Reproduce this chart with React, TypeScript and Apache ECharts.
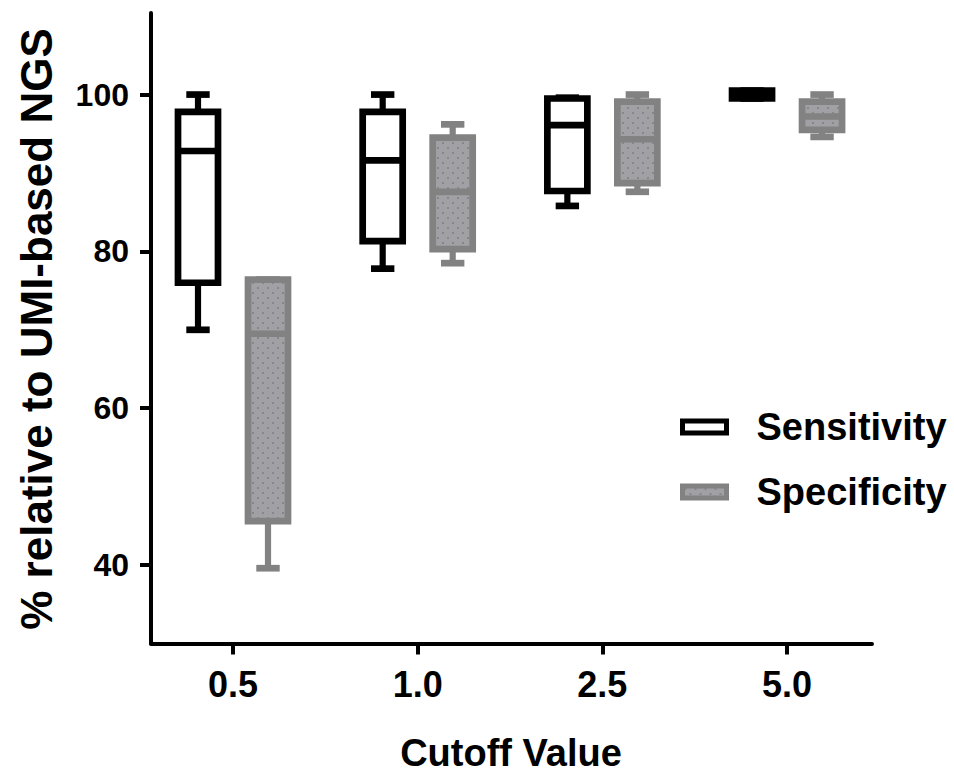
import React, { useEffect, useRef } from "react";
import * as echarts from "echarts";

const categories = ["0.5", "1.0", "2.5", "5.0"];
const categoryPositions = [0, 1, 2, 3];
// [min, Q1, median, Q3, max]
const sensitivity = [
  [70, 76, 92.8, 97.8, 100],
  [77.8, 81.3, 91.6, 97.8, 100],
  [85.8, 87.7, 96.1, 99.5, 99.6],
  [99.5, 99.5, 100, 100.5, 100.5],
];
const specificity = [
  [39.6, 45.6, 69.5, 76.4, 76.4],
  [78.5, 80.3, 87.6, 94.5, 96.2],
  [87.6, 88.7, 94.3, 99.1, 100],
  [94.6, 95.5, 97.2, 99.1, 100],
];
const yTicks = [40, 60, 80, 100];
const seriesNames = ["Sensitivity", "Specificity"];

const FONT = "'Liberation Sans', Arial, sans-serif";

function makePattern() {
  const c = document.createElement("canvas");
  c.width = 10;
  c.height = 10;
  const ctx = c.getContext("2d")!;
  ctx.fillStyle = "#a1a1a5";
  ctx.fillRect(0, 0, 10, 10);
  ctx.fillStyle = "#87878b";
  ctx.fillRect(2, 2, 2, 2);
  ctx.fillRect(7, 7, 2, 2);
  return { image: c, repeat: "repeat" as const };
}

export default function App() {
  const ref = useRef<HTMLDivElement>(null);
  useEffect(() => {
    if (!ref.current) return;
    const chart = echarts.init(ref.current, null, { renderer: "svg" });
    const pattern = makePattern();

    const makeRender = (offset: number, stroke: string, fill: any) =>
      (params: any, api: any) => {
        const xi = api.value(0);
        const mn = api.value(1), q1 = api.value(2), md = api.value(3), q3 = api.value(4), mx = api.value(5);
        const cx = api.coord([xi, 0])[0] + offset;
        const y = (v: number) => api.coord([xi, v])[1];
        const lw = 6.7;
        const hw = 20;
        const cw = 11.7;
        const lineStyle = { stroke, lineWidth: lw, lineCap: "butt" };
        return {
          type: "group",
          children: [
            { type: "line", shape: { x1: cx, y1: y(q3), x2: cx, y2: y(mx) }, style: { ...lineStyle, lineWidth: 6.2 } },
            { type: "line", shape: { x1: cx, y1: y(q1), x2: cx, y2: y(mn) }, style: { ...lineStyle, lineWidth: 6.2 } },
            { type: "line", shape: { x1: cx - cw, y1: y(mx), x2: cx + cw, y2: y(mx) }, style: lineStyle },
            { type: "line", shape: { x1: cx - cw, y1: y(mn), x2: cx + cw, y2: y(mn) }, style: lineStyle },
            {
              type: "rect",
              shape: { x: cx - hw, y: y(q3), width: hw * 2, height: y(q1) - y(q3) },
              style: { fill, stroke, lineWidth: lw },
            },
            { type: "line", shape: { x1: cx - hw, y1: y(md), x2: cx + hw, y2: y(md) }, style: lineStyle },
          ],
        };
      };

    const toData = (arr: number[][]) => arr.map((v, i) => [categoryPositions[i], ...v]);

    chart.setOption({
      animation: false,
      grid: { left: 151, right: 82, top: 13, bottom: 132.5, containLabel: false },
      xAxis: {
        type: "value",
        min: -0.444,
        max: 3.46,
        splitLine: { show: false },
        axisLine: { show: true, onZero: false, lineStyle: { color: "#000", width: 4 } },
        axisTick: { show: true, customValues: categoryPositions, length: 11, lineStyle: { color: "#000", width: 4 } },
        axisLabel: {
          customValues: categoryPositions,
          formatter: (v: number) => categories[Math.round(v)] ?? "",
          margin: 23,
          color: "#000",
          fontFamily: FONT,
          fontWeight: "bold",
          fontSize: 36,
        },
      },
      yAxis: {
        type: "value",
        min: 30,
        max: 110.4,
        splitLine: { show: false },
        axisLine: { show: true, onZero: false, lineStyle: { color: "#000", width: 4 } },
        axisTick: { show: true, customValues: yTicks, length: 11, lineStyle: { color: "#000", width: 4 } },
        axisLabel: {
          customValues: yTicks,
          margin: 22,
          color: "#000",
          fontFamily: FONT,
          fontWeight: "bold",
          fontSize: 32,
        },
      },
      legend: {
        orient: "vertical",
        left: 675,
        top: 403,
        itemWidth: 44,
        itemHeight: 12,
        itemGap: 27,
        selectedMode: false,
        textStyle: { color: "#000", fontFamily: FONT, fontWeight: "bold", fontSize: 38, padding: [0, 0, 0, 25] },
        data: [
          { name: seriesNames[0], icon: "rect", itemStyle: { color: "#fff", borderColor: "#000", borderWidth: 5 } },
          { name: seriesNames[1], icon: "rect", itemStyle: { color: pattern, borderColor: "#828282", borderWidth: 5 } },
        ],
      },
      graphic: [
        {
          type: "text",
          x: 511,
          y: 753,
          style: { text: "Cutoff Value", fill: "#000", font: `bold 38px ${FONT}`, align: "center", verticalAlign: "middle" },
        },
        {
          type: "text",
          x: 36,
          y: 329,
          rotation: Math.PI / 2,
          style: { text: "% relative to UMI-based NGS", fill: "#000", font: `bold 44px ${FONT}`, align: "center", verticalAlign: "middle" },
        },
      ],
      series: [
        {
          name: seriesNames[0],
          type: "custom",
          renderItem: makeRender(-35, "#000", "#fff"),
          itemStyle: { color: "#fff", borderColor: "#000" },
          encode: { x: 0, y: [1, 2, 3, 4, 5] },
          data: toData(sensitivity),
        },
        {
          name: seriesNames[1],
          type: "custom",
          renderItem: makeRender(35, "#828282", pattern),
          itemStyle: { color: "#a1a1a5", borderColor: "#828282" },
          encode: { x: 0, y: [1, 2, 3, 4, 5] },
          data: toData(specificity),
        },
      ],
    });
    return () => chart.dispose();
  }, []);
  return <div ref={ref} style={{ position: "fixed", left: 0, top: 0, width: 954, height: 776, background: "#fff" }} />;
}
